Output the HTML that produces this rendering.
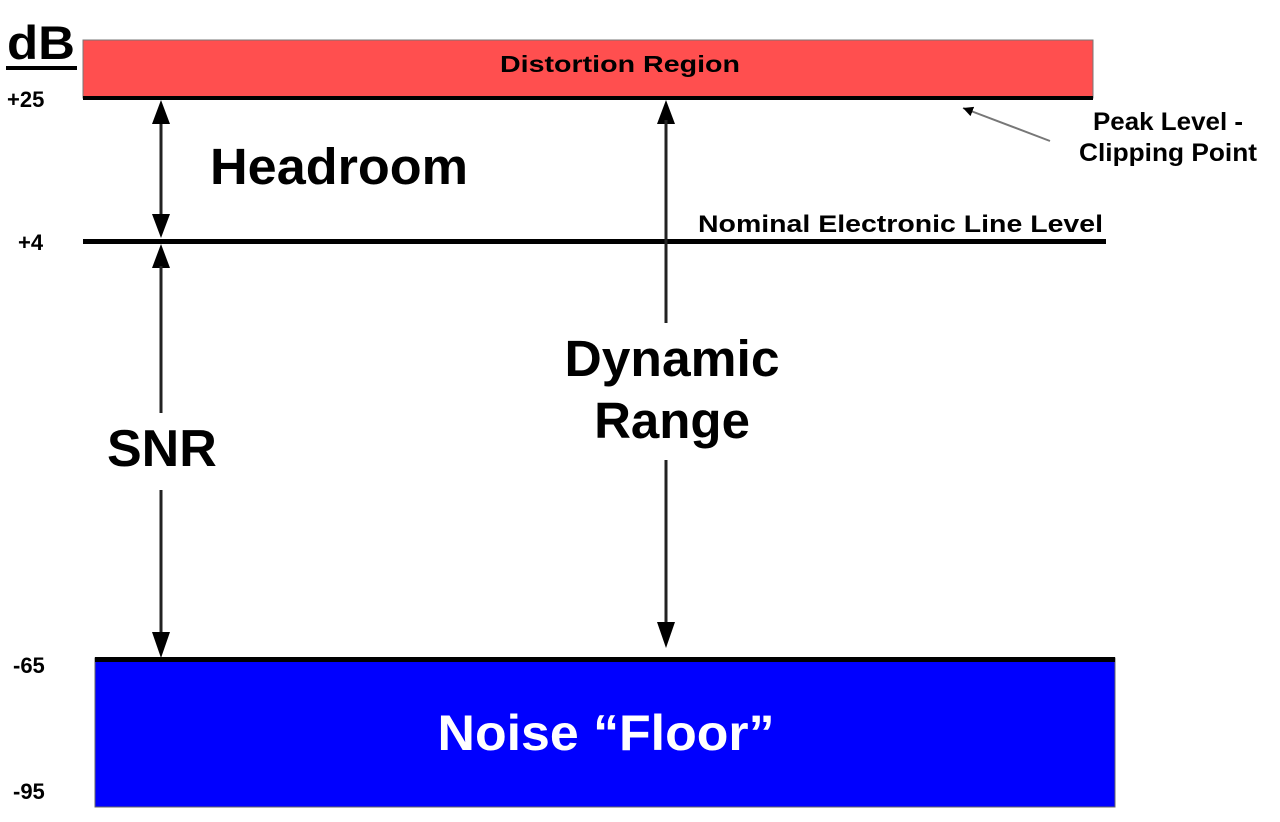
<!DOCTYPE html>
<html><head><meta charset="utf-8"><style>
html,body{margin:0;padding:0;background:#fff;}
svg{display:block;}
text{font-family:"Liberation Sans",Arial,sans-serif;font-weight:bold;fill:#000;}
</style></head><body>
<svg width="1280" height="822" viewBox="0 0 1280 822" xmlns="http://www.w3.org/2000/svg">
<defs>
<marker id="ah" viewBox="0 0 10 10" refX="10" refY="5" markerWidth="10" markerHeight="10" markerUnits="userSpaceOnUse" orient="auto">
<path d="M0,0 L10,5 L0,10 z" fill="#000"/>
</marker>
</defs>
<!-- red region -->
<rect x="83" y="40" width="1010" height="58" fill="#ff4f4f" stroke="#777" stroke-width="1"/>
<rect x="83" y="96" width="1010" height="4" fill="#000"/>
<text x="620" y="72" font-size="23" text-anchor="middle" textLength="240" lengthAdjust="spacingAndGlyphs">Distortion Region</text>
<!-- dB labels -->
<text x="7" y="59" font-size="47" textLength="68" lengthAdjust="spacingAndGlyphs">dB</text>
<rect x="6" y="66" width="71" height="4" fill="#000"/>
<text x="7" y="107" font-size="22">+25</text>
<text x="18" y="250" font-size="22">+4</text>
<text x="13" y="673" font-size="22">-65</text>
<text x="13" y="799" font-size="22">-95</text>
<!-- nominal line -->
<rect x="83" y="239" width="1023" height="5" fill="#000"/>
<text x="1103" y="232" font-size="24" text-anchor="end" textLength="405" lengthAdjust="spacingAndGlyphs">Nominal Electronic Line Level</text>
<!-- peak label -->
<text x="1168" y="130" font-size="25" text-anchor="middle" textLength="150" lengthAdjust="spacingAndGlyphs">Peak Level -</text>
<text x="1168" y="161" font-size="25" text-anchor="middle" textLength="178" lengthAdjust="spacingAndGlyphs">Clipping Point</text>
<line x1="1050" y1="141" x2="963" y2="108" stroke="#777" stroke-width="2" marker-end="url(#ah)"/>
<!-- headroom arrow -->
<line x1="161" y1="120" x2="161" y2="220" stroke="#222" stroke-width="3"/>
<path d="M161,100 L152,124 L170,124 z" fill="#000"/>
<path d="M161,238 L152,214 L170,214 z" fill="#000"/>
<text x="210" y="184" font-size="51" textLength="258" lengthAdjust="spacingAndGlyphs">Headroom</text>
<!-- SNR arrow -->
<path d="M161,244 L152,268 L170,268 z" fill="#000"/>
<line x1="161" y1="266" x2="161" y2="413" stroke="#222" stroke-width="3"/>
<line x1="161" y1="490" x2="161" y2="635" stroke="#222" stroke-width="3"/>
<path d="M161,658 L152,632 L170,632 z" fill="#000"/>
<text x="107" y="466" font-size="52">SNR</text>
<!-- dynamic range arrow -->
<path d="M666,100 L657,124 L675,124 z" fill="#000"/>
<line x1="666" y1="120" x2="666" y2="323" stroke="#222" stroke-width="3"/>
<line x1="666" y1="460" x2="666" y2="625" stroke="#222" stroke-width="3"/>
<path d="M666,648 L657,622 L675,622 z" fill="#000"/>
<text x="672" y="376" font-size="51" text-anchor="middle" textLength="215" lengthAdjust="spacingAndGlyphs">Dynamic</text>
<text x="672" y="438" font-size="51" text-anchor="middle">Range</text>
<!-- noise floor -->
<rect x="95" y="658" width="1020" height="149" fill="#0000ff" stroke="#666" stroke-width="1"/>
<rect x="95" y="657" width="1020" height="5" fill="#000"/>
<text x="606" y="750" font-size="50" text-anchor="middle" style="fill:#fff" textLength="337" lengthAdjust="spacingAndGlyphs">Noise “Floor”</text>
</svg>
</body></html>
